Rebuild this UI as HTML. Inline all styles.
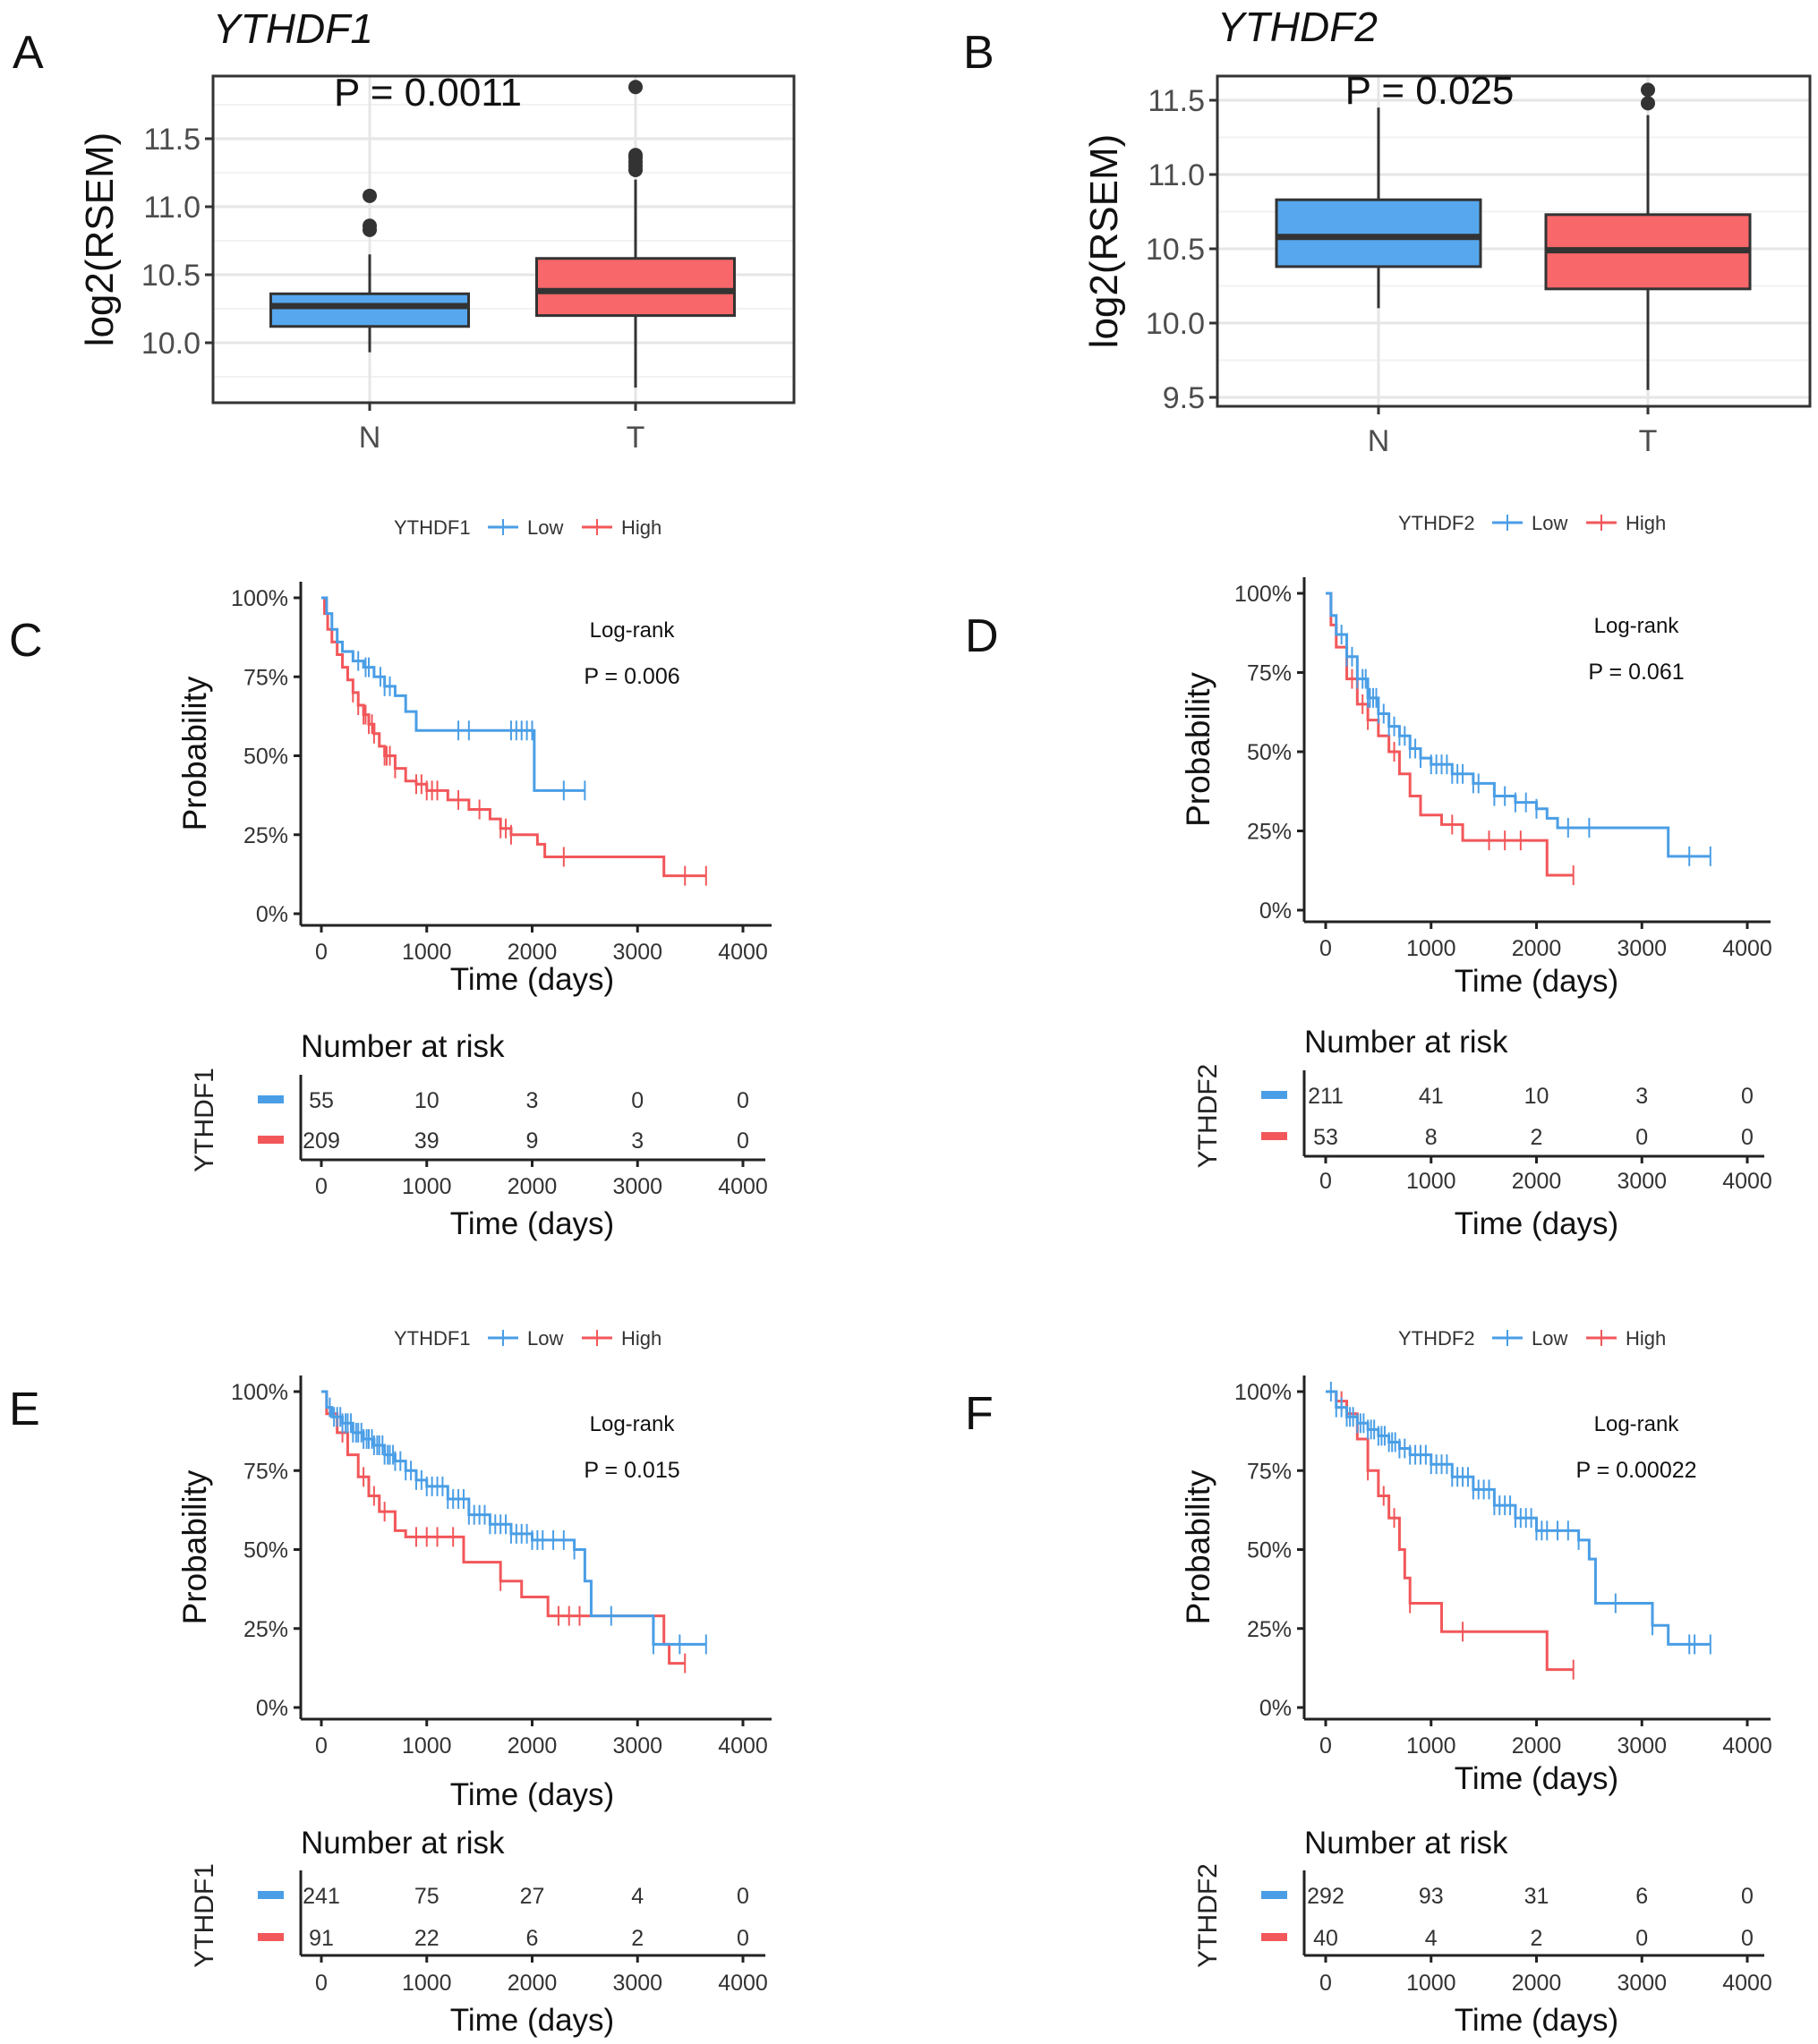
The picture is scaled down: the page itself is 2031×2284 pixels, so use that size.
<!DOCTYPE html>
<html><head><meta charset="utf-8">
<style>
html,body{margin:0;padding:0;background:#fff;}
svg{display:block;font-family:"Liberation Sans",Arial,sans-serif;}
</style></head>
<body>
<svg id="fig" width="2031" height="2284" viewBox="0 0 2031 2284" xmlns="http://www.w3.org/2000/svg"></svg>
<script>
// ---------- Boxplot data ----------
const boxCats = ["N","T"];
const boxA_q1 = [10.12, 10.20];
const boxA_med = [10.27, 10.38];
const boxA_q3 = [10.36, 10.62];
const boxA_lo = [9.93, 9.67];
const boxA_hi = [10.65, 11.20];
const boxA_out = [[10.83,10.86,11.08],[11.27,11.30,11.33,11.36,11.38,11.88]];
const boxA_ticks = [10.0,10.5,11.0,11.5];

const boxB_q1 = [10.38, 10.23];
const boxB_med = [10.58, 10.49];
const boxB_q3 = [10.83, 10.73];
const boxB_lo = [10.10, 9.55];
const boxB_hi = [11.45, 11.40];
const boxB_out = [[],[11.48,11.57]];
const boxB_ticks = [9.5,10.0,10.5,11.0,11.5];

// ---------- KM data ----------
const kmTicks = [0,1000,2000,3000,4000];
const pTicks = [0,25,50,75,100];
const C_lowT = [0,50,100,150,200,300,400,500,600,700,800,900,2020];
const C_lowS = [1,0.95,0.9,0.86,0.83,0.8,0.78,0.75,0.72,0.69,0.64,0.58,0.39];
const C_lowEnd = 2500;
const C_lowCens = [350,420,450,560,600,650,1300,1400,1800,1850,1900,1950,2000,2300,2500];
const C_highT = [0,30,60,100,150,200,250,300,350,400,450,500,550,600,700,800,900,1000,1200,1400,1600,1700,1800,2050,2120,3250];
const C_highS = [1,0.95,0.9,0.86,0.82,0.78,0.74,0.7,0.66,0.63,0.6,0.57,0.53,0.5,0.46,0.42,0.41,0.39,0.36,0.33,0.3,0.27,0.25,0.22,0.18,0.12];
const C_highEnd = 3650;
const C_highCens = [300,350,400,420,450,480,500,600,620,650,700,900,950,1000,1050,1100,1300,1500,1700,1750,1800,2300,3450,3650];
const C_riskLow = [55,10,3,0,0];
const C_riskHigh = [209,39,9,3,0];

const D_lowT = [0,50,100,200,300,400,500,600,700,800,900,1000,1200,1400,1600,1800,2000,2100,2200,3250];
const D_lowS = [1,0.93,0.87,0.8,0.73,0.67,0.62,0.58,0.55,0.51,0.48,0.46,0.43,0.4,0.36,0.34,0.32,0.29,0.26,0.17];
const D_lowEnd = 3650;
const D_lowCens = [150,200,250,300,350,380,400,420,450,480,500,550,600,650,700,750,800,850,900,1000,1050,1100,1150,1200,1250,1300,1400,1450,1600,1700,1800,1900,2000,2300,2500,3450,3650];
const D_highT = [0,50,100,200,300,400,500,600,700,800,900,1100,1300,2100];
const D_highS = [1,0.9,0.83,0.73,0.65,0.6,0.55,0.5,0.43,0.36,0.3,0.27,0.22,0.11];
const D_highEnd = 2350;
const D_highCens = [250,350,400,650,1200,1550,1700,1850,2350];
const D_riskLow = [211,41,10,3,0];
const D_riskHigh = [53,8,2,0,0];

const E_lowT = [0,50,100,200,300,400,500,600,700,800,900,1000,1200,1400,1600,1800,2000,2400,2500,2560,3150];
const E_lowS = [1,0.95,0.92,0.9,0.87,0.85,0.83,0.8,0.78,0.75,0.72,0.7,0.66,0.61,0.58,0.55,0.53,0.5,0.4,0.29,0.2];
const E_lowEnd = 3650;
const E_lowCens = [80,120,150,180,200,230,250,280,300,330,350,380,400,430,450,480,500,530,550,580,600,630,650,680,700,750,800,850,900,950,1000,1050,1100,1150,1200,1250,1300,1350,1400,1450,1500,1550,1600,1650,1700,1750,1800,1850,1900,1950,2000,2050,2100,2200,2300,2400,2750,3150,3400,3650];
const E_highT = [0,50,150,250,350,450,550,700,800,1350,1700,1900,2150,3250,3300];
const E_highS = [1,0.93,0.87,0.8,0.73,0.67,0.62,0.56,0.54,0.46,0.4,0.35,0.29,0.2,0.14];
const E_highEnd = 3450;
const E_highCens = [200,400,500,600,900,1000,1100,1250,1700,2250,2350,2450,3450];
const E_riskLow = [241,75,27,4,0];
const E_riskHigh = [91,22,6,2,0];

const F_lowT = [0,100,200,300,400,500,600,700,800,1000,1200,1400,1600,1800,2000,2400,2500,2560,3100,3250];
const F_lowS = [1,0.95,0.92,0.9,0.88,0.86,0.84,0.82,0.8,0.77,0.73,0.69,0.64,0.6,0.56,0.53,0.47,0.33,0.26,0.2];
const F_lowEnd = 3650;
const F_lowCens = [50,100,150,200,230,260,300,330,360,400,430,460,500,530,560,600,630,660,700,750,800,850,900,950,1000,1050,1100,1150,1200,1250,1300,1350,1400,1450,1500,1550,1600,1650,1700,1750,1800,1850,1900,1950,2000,2050,2100,2200,2300,2400,2750,3100,3450,3500,3650];
const F_highT = [0,100,200,300,400,500,600,700,750,800,1100,2100];
const F_highS = [1,0.97,0.93,0.85,0.75,0.67,0.6,0.5,0.41,0.33,0.24,0.12];
const F_highEnd = 2350;
const F_highCens = [150,400,550,650,800,1300,2350];
const F_riskLow = [292,93,31,6,0];
const F_riskHigh = [40,4,2,0,0];

const BLUE = "#4a9ee6", RED = "#f2575a", BOXBLUE = "#56a7ee", BOXRED = "#f8676a";
const NS = "http://www.w3.org/2000/svg";
const svg = document.getElementById("fig");

function el(tag, attrs, parent, text){
  const e = document.createElementNS(NS, tag);
  for (const k in attrs) e.setAttribute(k, attrs[k]);
  if (text !== undefined) e.textContent = text;
  (parent||svg).appendChild(e);
  return e;
}
function txt(x,y,s,size,opts,parent){
  opts = opts||{};
  const t = el("text",{x:x,y:y,"font-size":size,"text-anchor":opts.anchor||"middle",fill:opts.fill||"#111","font-style":opts.italic?"italic":"normal"},parent,s);
  if (opts.rotate) t.setAttribute("transform","rotate(-90 "+x+" "+y+")");
  return t;
}

// ---------- Boxplot ----------
function boxplot(cfg, q1, med, q3, lo, hi, outs, ticks){
  const g = el("g",{});
  
  
  const Y = v => cfg.y10 - (v-10)*cfg.k;
  el("rect",{x:cfg.l,y:cfg.t,width:cfg.r-cfg.l,height:cfg.b-cfg.t,fill:"#fff"},g);
  for (let v=9.5; v<=12; v+=0.25){
    const y = Y(v); if (y<cfg.t||y>cfg.b) continue;
    const major = Math.abs(v*2-Math.round(v*2))<1e-6;
    el("line",{x1:cfg.l,x2:cfg.r,y1:y,y2:y,stroke:major?"#e6e6e6":"#f2f2f2","stroke-width":major?3:2},g);
  }
  cfg.xs.forEach(x=>el("line",{x1:x,x2:x,y1:cfg.t,y2:cfg.b,stroke:"#e6e6e6","stroke-width":3},g));
  const cols=[BOXBLUE,BOXRED];
  boxCats.forEach((c,i)=>{
    const x=cfg.xs[i], hw=cfg.bw/2;
    const w = el("line",{x1:x,x2:x,y1:Y(lo[i]),y2:Y(hi[i]),stroke:"#333","stroke-width":3},g);
    
    
    const r = el("rect",{x:x-hw,y:Y(q3[i]),width:cfg.bw,height:Y(q1[i])-Y(q3[i]),fill:cols[i],stroke:"#333","stroke-width":3},g);
    
    
    el("line",{x1:x-hw,x2:x+hw,y1:Y(med[i]),y2:Y(med[i]),stroke:"#333","stroke-width":7},g);
    outs[i].forEach(v=>{
      const o = el("circle",{cx:x,cy:Y(v),r:8,fill:"#333"},g);
      
      
    });
    el("line",{x1:x,x2:x,y1:cfg.b,y2:cfg.b+9,stroke:"#333","stroke-width":3},g);
    txt(x,cfg.b+50,c,34,{fill:"#4d4d4d"},g);
  });
  ticks.forEach(v=>{
    el("line",{x1:cfg.l-9,x2:cfg.l,y1:Y(v),y2:Y(v),stroke:"#333","stroke-width":3},g);
    txt(cfg.l-14,Y(v)+12,v.toFixed(1),34,{anchor:"end",fill:"#4d4d4d"},g);
  });
  el("rect",{x:cfg.l,y:cfg.t,width:cfg.r-cfg.l,height:cfg.b-cfg.t,fill:"none",stroke:"#333","stroke-width":3},g);
  txt(cfg.ylabX,(cfg.t+cfg.b)/2,"log2(RSEM)",44,{rotate:true},g);
  txt(cfg.l,cfg.titleY,cfg.title,46,{anchor:"start",italic:true},g);
  txt(cfg.pX,cfg.pY,cfg.p,44,{},g);
  txt(cfg.letX,cfg.letY,cfg.letter,52,{anchor:"start"},g);
}

boxplot({name:"boxplot-ythdf1",l:238,r:887,t:85,b:450,y10:383,k:152,xs:[413,710],bw:221,ylabX:126,titleY:48,title:"YTHDF1",pX:478,pY:118,p:"P = 0.0011",letX:14,letY:76,letter:"A"},
  boxA_q1,boxA_med,boxA_q3,boxA_lo,boxA_hi,boxA_out,boxA_ticks);
boxplot({name:"boxplot-ythdf2",l:1360,r:2022,t:85,b:454,y10:361,k:166,xs:[1540,1841],bw:228,ylabX:1248,titleY:46,title:"YTHDF2",pX:1597,pY:116,p:"P = 0.025",letX:1076,letY:76,letter:"B"},
  boxB_q1,boxB_med,boxB_q3,boxB_lo,boxB_hi,boxB_out,boxB_ticks);

// ---------- KM ----------
function stepAt(T,S,t){ let s=S[0]; for(let i=0;i<T.length;i++){ if(T[i]<=t) s=S[i]; } return s; }
function km(cfg, d){
  const g = el("g",{});
  
  
  const X = t => cfg.x0 + (cfg.x4-cfg.x0)*t/4000;
  const Y = s => cfg.y0 - (cfg.y0-cfg.y100)*s;
  const lx = cfg.legX;
  txt(lx,cfg.legY+8,cfg.gene,22,{anchor:"start",fill:"#333"},g);
  [[BLUE,"Low",lx+105],[RED,"High",lx+210]].forEach(([c,s,x])=>{
    el("line",{x1:x,x2:x+34,y1:cfg.legY,y2:cfg.legY,stroke:c,"stroke-width":3},g);
    el("line",{x1:x+17,x2:x+17,y1:cfg.legY-9,y2:cfg.legY+9,stroke:c,"stroke-width":2},g);
    const lt = txt(x+44,cfg.legY+8,s,22,{anchor:"start",fill:"#333"},g);
    
    
  });
  el("line",{x1:cfg.left,x2:cfg.left,y1:cfg.top,y2:cfg.bottom,stroke:"#222","stroke-width":3},g);
  el("line",{x1:cfg.left,x2:cfg.right,y1:cfg.bottom,y2:cfg.bottom,stroke:"#222","stroke-width":3},g);
  pTicks.forEach(p=>{
    el("line",{x1:cfg.left-8,x2:cfg.left,y1:Y(p/100),y2:Y(p/100),stroke:"#222","stroke-width":3},g);
    txt(cfg.left-14,Y(p/100)+9,p+"%",25,{anchor:"end",fill:"#333"},g);
  });
  kmTicks.forEach(t=>{
    el("line",{x1:X(t),x2:X(t),y1:cfg.bottom,y2:cfg.bottom+8,stroke:"#222","stroke-width":3},g);
    txt(X(t),cfg.bottom+38,String(t),25,{fill:"#333"},g);
  });
  txt((cfg.x0+cfg.x4)/2,cfg.timeY,"Time (days)",35,{},g);
  txt(cfg.left-106,(cfg.top+cfg.bottom)/2,"Probability",37,{rotate:true},g);
  txt(cfg.lrX,cfg.y100+44,"Log-rank",24,{},g);
  txt(cfg.lrX,cfg.y100+96,"P = "+cfg.p,25,{},g);
  [[d.hT,d.hS,d.hE,d.hC,RED,"high"],[d.lT,d.lS,d.lE,d.lC,BLUE,"low"]].forEach(([T,S,E,Cn,c,nm])=>{
    let p = "M"+X(T[0])+" "+Y(S[0]);
    for(let i=1;i<T.length;i++){ p+=" H"+X(T[i])+" V"+Y(S[i]); }
    p += " H"+X(E);
    const path = el("path",{d:p,fill:"none",stroke:c,"stroke-width":3},g);
    
    
    Cn.forEach(t=>{
      const y=Y(stepAt(T,S,t));
      el("line",{x1:X(t),x2:X(t),y1:y-11,y2:y+11,stroke:c,"stroke-width":2},g);
    });
  });
  txt(cfg.left,cfg.narY,"Number at risk",35,{anchor:"start"},g);
  el("line",{x1:cfg.left,x2:cfg.left,y1:cfg.rTop,y2:cfg.rBot,stroke:"#222","stroke-width":3},g);
  el("line",{x1:cfg.left,x2:cfg.right-7,y1:cfg.rBot,y2:cfg.rBot,stroke:"#222","stroke-width":3},g);
  [[d.rL,cfg.row1,BLUE,"low"],[d.rH,cfg.row2,RED,"high"]].forEach(([vals,y,c,nm])=>{
    const sw = el("rect",{x:cfg.left-48,y:y-5,width:29,height:9,fill:c},g);
    
    
    vals.forEach((v,i)=>txt(X(kmTicks[i]),y+9,String(v),25,{fill:"#333"},g));
  });
  kmTicks.forEach(t=>{
    el("line",{x1:X(t),x2:X(t),y1:cfg.rBot,y2:cfg.rBot+8,stroke:"#222","stroke-width":3},g);
    txt(X(t),cfg.rTickY+9,String(t),25,{fill:"#333"},g);
  });
  txt((cfg.x0+cfg.x4)/2,cfg.rTimeY+12,"Time (days)",35,{},g);
  txt(cfg.left-98,(cfg.rTop+cfg.rBot)/2+3,cfg.gene,30,{rotate:true,fill:"#222"},g);
  txt(cfg.letX,cfg.letY,cfg.letter,52,{anchor:"start"},g);
}

const colL = {x0:359,x4:830,left:336,right:862,legX:440,lrX:706,letX:10};
const colR = {x0:1481,x4:1952,left:1457,right:1978,legX:1562,lrX:1828,letX:1078};

km(Object.assign({},colL,{name:"km-panel-c",gene:"YTHDF1",legY:589,y100:668,y0:1021,top:650,bottom:1034,timeY:1106,p:"0.006",
  narY:1181,rTop:1201,rBot:1296,row1:1229,row2:1274,rTickY:1325,rTimeY:1367,letY:733,letter:"C"}),
  {lT:C_lowT,lS:C_lowS,lE:C_lowEnd,lC:C_lowCens,hT:C_highT,hS:C_highS,hE:C_highEnd,hC:C_highCens,rL:C_riskLow,rH:C_riskHigh});
km(Object.assign({},colR,{name:"km-panel-d",gene:"YTHDF2",legY:584,y100:663,y0:1017,top:645,bottom:1030,timeY:1108,p:"0.061",
  narY:1176,rTop:1196,rBot:1292,row1:1224,row2:1270,rTickY:1319,rTimeY:1367,letY:728,letter:"D"}),
  {lT:D_lowT,lS:D_lowS,lE:D_lowEnd,lC:D_lowCens,hT:D_highT,hS:D_highS,hE:D_highEnd,hC:D_highCens,rL:D_riskLow,rH:D_riskHigh});
km(Object.assign({},colL,{name:"km-panel-e",gene:"YTHDF1",legY:1495,y100:1555,y0:1908,top:1537,bottom:1921,timeY:2017,p:"0.015",
  narY:2071,rTop:2090,rBot:2185,row1:2118,row2:2165,rTickY:2215,rTimeY:2257,letY:1592,letter:"E"}),
  {lT:E_lowT,lS:E_lowS,lE:E_lowEnd,lC:E_lowCens,hT:E_highT,hS:E_highS,hE:E_highEnd,hC:E_highCens,rL:E_riskLow,rH:E_riskHigh});
km(Object.assign({},colR,{name:"km-panel-f",gene:"YTHDF2",legY:1495,y100:1555,y0:1908,top:1537,bottom:1921,timeY:1999,p:"0.00022",
  narY:2071,rTop:2090,rBot:2185,row1:2118,row2:2165,rTickY:2215,rTimeY:2257,letY:1597,letter:"F"}),
  {lT:F_lowT,lS:F_lowS,lE:F_lowEnd,lC:F_lowCens,hT:F_highT,hS:F_highS,hE:F_highEnd,hC:F_highCens,rL:F_riskLow,rH:F_riskHigh});
</script>
</body></html>
